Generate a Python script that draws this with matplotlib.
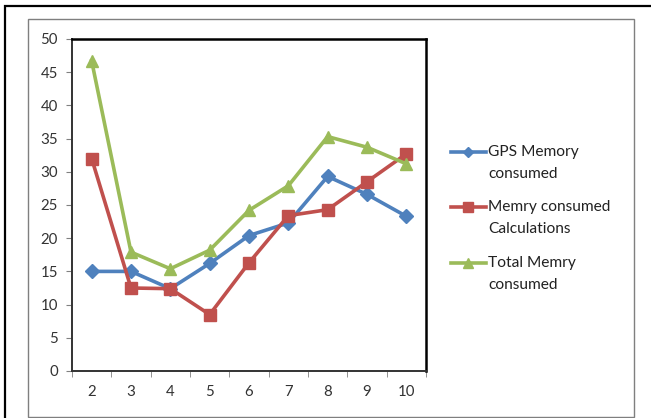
import matplotlib
matplotlib.use("Agg")
import matplotlib.pyplot as plt
from matplotlib.lines import Line2D
from matplotlib.patches import Rectangle

plt.rcParams['font.family'] = ['Lato', 'DejaVu Sans']

x_labels = ['2', '3', '4', '5', '6', '7', '8', '9', '10']
gps_mem = [15.0, 15.0, 12.4, 16.2, 20.4, 22.3, 29.3, 26.6, 23.3]
calc_mem = [32.0, 12.5, 12.4, 8.5, 16.3, 23.4, 24.3, 28.5, 32.7]
total_mem = [46.7, 17.9, 15.4, 18.2, 24.2, 27.9, 35.3, 33.7, 31.2]

names = ['GPS Memory\nconsumed', 'Memry consumed\nCalculations', 'Total Memry\nconsumed']
colors = ['#4F81BD', '#C0504D', '#9BBB59']
markers = ['D', 's', '^']
msizes = [7, 8.5, 8.5]

W, H = 651, 418
fig = plt.figure(figsize=(W / 100, H / 100), dpi=100)

# outer frames (pixel coords -> figure fraction)
def box(x0, y0, x1, y1, **kw):
    fig.add_artist(Rectangle((x0 / W, 1 - y1 / H), (x1 - x0) / W, (y1 - y0) / H,
                             transform=fig.transFigure, fill=False, **kw))

box(5, 6, 700, 460, edgecolor='black', linewidth=1.6)
box(28, 19, 634, 417, edgecolor='#7f7f7f', linewidth=1.0)

ax = fig.add_axes([72 / W, 1 - 371 / H, (426 - 72) / W, (371 - 39) / H])

pos = list(range(len(x_labels)))
for vals, c, m, ms in zip([gps_mem, calc_mem, total_mem], colors, markers, msizes):
    ax.plot(pos, vals, color=c, marker=m, markersize=ms, linewidth=2.6)

ax.set_xlim(-0.5, len(x_labels) - 0.5)
ax.set_ylim(0, 50)
ax.set_yticks(range(0, 51, 5))
ax.set_xticks(pos)
ax.set_xticklabels(x_labels)
ax.set_xticks([p - 0.5 for p in pos] + [len(x_labels) - 0.5], minor=True)
ax.tick_params(axis='x', which='major', length=0, pad=10, labelsize=10.8, labelcolor='#333333')
ax.tick_params(axis='x', which='minor', length=4, direction='out', color='#808080')
ax.tick_params(axis='y', which='major', length=4, direction='out', color='#808080',
               labelsize=10.8, labelcolor='#333333', pad=6)

for side in ['top', 'right']:
    ax.spines[side].set_linewidth(1.8)
    ax.spines[side].set_color('black')
for side in ['left', 'bottom']:
    ax.spines[side].set_linewidth(1.4)
    ax.spines[side].set_color('#333333')

# legend, drawn by hand so the key sits on the first text line
leg_y = [152, 207, 263]
for name, c, m, ms, yy in zip(names, colors, markers, msizes, leg_y):
    fy = 1 - yy / H
    fig.add_artist(Line2D([451 / W, 486 / W], [fy, fy], transform=fig.transFigure,
                          color=c, linewidth=2.6))
    fig.add_artist(Line2D([468 / W], [fy], transform=fig.transFigure, color=c,
                          marker=m, markersize=ms * 0.8))
    fig.text(488 / W, fy + 7 / H, name, ha='left', va='top', fontsize=11.2,
             color='#222222', linespacing=1.7)

fig.savefig('out.png', dpi=100)
